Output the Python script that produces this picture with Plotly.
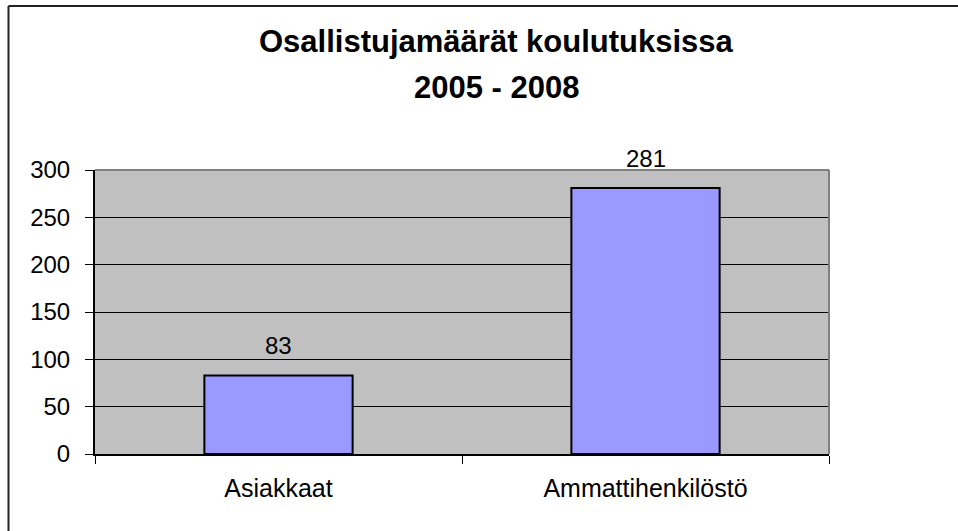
import plotly.graph_objects as go

categories = ["Asiakkaat", "Ammattihenkilöstö"]
values = [83, 281]
y_ticks = [0, 50, 100, 150, 200, 250, 300]
title_line1 = "Osallistujamäärät koulutuksissa"
title_line2 = "2005 - 2008"

W, H = 958, 531
L, R, T, B = 95, 129, 170, 77
pw, ph = W - L - R, H - T - B

def px_x(p):
    return (p - L) / pw

def px_y(p):
    return (H - B - p) / ph

FONT = "Liberation Sans, Arial, sans-serif"

fig = go.Figure()
fig.add_trace(go.Bar(
    x=categories, y=values,
    marker=dict(color="#9999FF", line=dict(color="black", width=2)),
    hoverinfo="skip",
))

annotations = []
for c, v in zip(categories, values):
    annotations.append(dict(x=c, y=v, xref="x", yref="y", text=str(v), showarrow=False,
                            yanchor="bottom", yshift=14,
                            font=dict(family=FONT, size=24, color="black")))
annotations.append(dict(x=px_x(496), y=px_y(41.5), xref="paper", yref="paper", text=title_line1,
                        showarrow=False, xanchor="center", yanchor="middle",
                        font=dict(family=FONT, size=31, color="black", weight="bold")))
annotations.append(dict(x=px_x(496), y=px_y(87.5), xref="paper", yref="paper", text=title_line2,
                        showarrow=False, xanchor="center", yanchor="middle",
                        font=dict(family=FONT, size=31, color="black", weight="bold")))

shapes = [
    # plot area top and right border (gray)
    dict(type="line", xref="paper", yref="paper", x0=0, x1=1, y0=1, y1=1,
         line=dict(color="#808080", width=2), layer="above"),
    dict(type="line", xref="paper", yref="paper", x0=1, x1=1, y0=0, y1=1,
         line=dict(color="#808080", width=2), layer="above"),
    # outer chart border (top and left)
    dict(type="line", xref="paper", yref="paper", x0=px_x(8.5), x1=px_x(960), y0=px_y(6), y1=px_y(6),
         line=dict(color="#222222", width=2)),
    dict(type="line", xref="paper", yref="paper", x0=px_x(8.5), x1=px_x(8.5), y0=px_y(6), y1=px_y(535),
         line=dict(color="#222222", width=2)),
]

fig.update_layout(
    width=W, height=H,
    margin=dict(l=L, r=R, t=T, b=B, pad=0),
    paper_bgcolor="white",
    plot_bgcolor="#C0C0C0",
    showlegend=False,
    bargap=0.596,
    annotations=annotations,
    shapes=shapes,
    font=dict(family=FONT, color="black"),
)
fig.update_xaxes(
    type="category", showgrid=False, showline=True, linecolor="black", linewidth=2,
    ticks="outside", tickson="boundaries", ticklen=8, tickcolor="black", tickwidth=1,
    tickfont=dict(family=FONT, size=25, color="black"), ticklabelstandoff=11,
    automargin=False, fixedrange=True,
)
fig.update_yaxes(
    range=[0, 300], tickvals=y_ticks, showgrid=True, gridcolor="black", gridwidth=1,
    showline=True, linecolor="black", linewidth=2, zeroline=False,
    ticks="outside", ticklen=8, tickcolor="black", tickwidth=1,
    tickfont=dict(family=FONT, size=24, color="black"), ticklabelstandoff=10,
    automargin=False, fixedrange=True,
)

fig.write_html("out.html", config={"displayModeBar": False},
               post_script="document.body.style.margin='0';document.body.style.overflow='hidden';")
